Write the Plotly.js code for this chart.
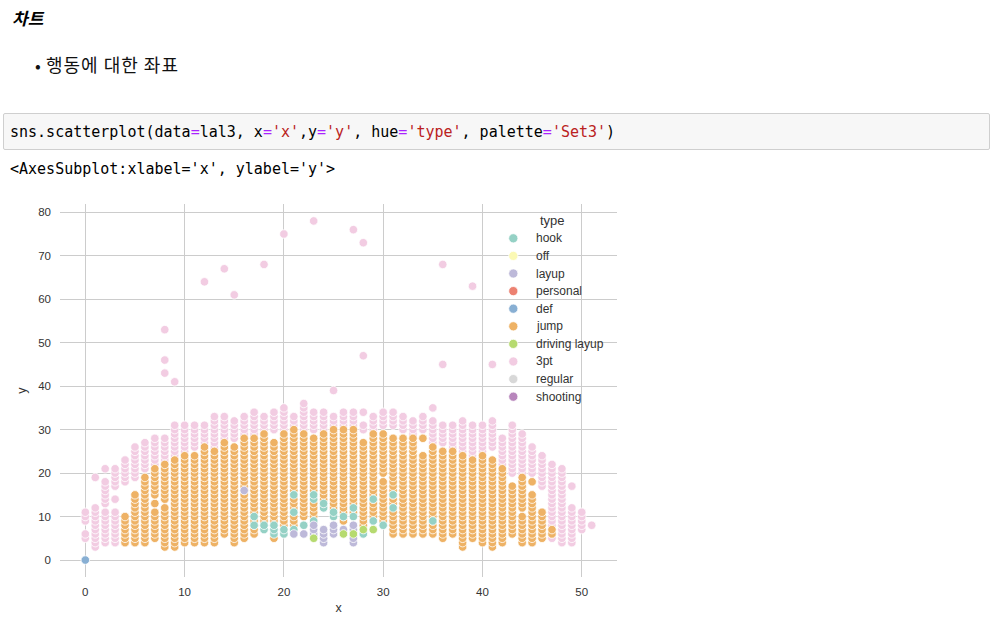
<!DOCTYPE html>
<html>
<head>
<meta charset="utf-8">
<script src="https://cdn.plot.ly/plotly-3.0.1.min.js"></script>
<style>
  html, body { margin:0; padding:0; background:#ffffff; width:997px; height:625px; overflow:hidden; }
  #h { position:absolute; left:12px; top:6px; font-family:"Noto Sans CJK KR","Noto Sans",sans-serif; font-size:17px; font-weight:bold; font-style:italic; color:#000; line-height:24px; }
  #bul { position:absolute; left:35px; top:51px; font-family:"Noto Sans CJK KR","Noto Sans",sans-serif; font-size:18px; color:#111; line-height:26px; letter-spacing:1px; }
  #bul .dot { display:inline-block; width:11px; font-size:17px; letter-spacing:0; }
  #code { position:absolute; left:3px; top:113px; width:985px; height:35px; background:#f7f7f7; border:1px solid #cfcfcf; border-radius:2px; }
  #code span.t { position:absolute; left:6px; top:8px; font-family:"DejaVu Sans Mono","Liberation Mono",monospace; font-size:15px; line-height:20px; color:#000; white-space:pre; }
  .op { color:#aa22ff; }
  .str { color:#ba2121; }
  #out { position:absolute; left:10px; top:159px; font-family:"DejaVu Sans Mono","Liberation Mono",monospace; font-size:15px; line-height:20px; color:#000; white-space:pre; }
  #plot { position:absolute; left:0px; top:190px; width:660px; height:435px; }
</style>
</head>
<body>
<div id="h">차트</div>
<div id="bul"><span class="dot">•</span>행동에 대한 좌표</div>
<div id="code"><span class="t">sns.scatterplot(data<span class="op">=</span>lal3, x<span class="op">=</span><span class="str">'x'</span>,y<span class="op">=</span><span class="str">'y'</span>, hue<span class="op">=</span><span class="str">'type'</span>, palette<span class="op">=</span><span class="str">'Set3'</span>)</span></div>
<div id="out">&lt;AxesSubplot:xlabel='x', ylabel='y'&gt;</div>
<div id="plot"></div>
<script>
// ---- data ----
const xCols = [0,1,2,3,4,5,6,7,8,9,10,11,12,13,14,15,16,17,18,19,20,21,22,23,24,25,
               26,27,28,29,30,31,32,33,34,35,36,37,38,39,40,41,42,43,44,45,46,47,48,49,50,51];

// y values per x column, written as lists / runs of integers
const threePtCols = [
  "5-6,9-11", "3-12,19", "4-11,13-18,21", "4-11,14,17-21", "18-23", "19-26",
  "21-27", "22-28", "23-28,43,46,53", "24-31,41", "25-31", "26-31",
  "27-31,64", "26-33", "28-33,67", "28-32,61", "29-33", "29-34",
  "30-33,68", "30-34", "30-35,75", "30-33", "30-36", "30-34,78",
  "29-34", "29-33,39", "31-34", "31-34,76", "30-31,34,47,73", "29-33",
  "31-34", "31-34", "30-33", "29-32", "30-33", "27-32,35",
  "27-31,45,68", "26-31", "25-32", "24-31,63", "25-31", "26-32,45",
  "22-28", "20-31", "20-29", "20-26", "17-24", "5-22",
  "4-21", "4-12,17", "7-11", "8"
];
const jumpCols = [
  "", "", "", "", "4-10", "4-15",
  "4-19", "5-11,13,15-21", "3-12,14-22", "3-23", "4-24", "4-24",
  "4-26", "4-25", "6-27", "4-26", "5-28", "6-28",
  "9-29", "5,9-27", "8-29", "8-10,12-14,16-30", "10-29", "10-13,16-28",
  "14-29", "12-30", "9-30", "11-30", "8-27", "10-29",
  "9-18,20-29", "6-11,13-28", "6-28", "6-28", "6-24,28", "6-26",
  "5-25", "6-25", "3-24", "5-23", "4-24", "3-23",
  "4-21", "6-17", "4-10,12-19", "4-15,18", "5-11", "6-7",
  "", "", "", ""
];
const hookX = [17,17,18,18,19,19,19,20,20,21,21,21,22,23,23,23,24,24,25,25,26,27,27,28,29,29,30,31,31,35];
const hookY = [8,10,7,8,6,7,8,6,7,7,11,15,8,9,14,15,12,13,10,11,10,10,12,6,9,14,8,12,15,9];
const layupX = [16,21,22,23,23,23,24,24,24,24,25,25,25,26,27,27,27,27];
const layupY = [16,6,6,6,7,8,4,5,6,7,6,7,8,7,4,5,7,8];
const drivingX = [23,26,27,28,29];
const drivingY = [5,6,6,7,7];
const defX = [0];
const defY = [0];

const types = ["hook","off","layup","personal","def","jump","driving layup","3pt","regular","shooting"];
const typeColors = ["#95d1c5","#fbf9b4","#bdb9d9","#ec8171","#88afd3","#eeb265","#b6da70","#f2cce2","#d8d8d8","#b886bc"];

const xTicks = [0,10,20,30,40,50];
const yTicks = [0,10,20,30,40,50,60,70,80];

// ---- build ----
function expand(spec){
  const out=[]; if(!spec) return out;
  spec.split(',').forEach(p=>{
    const parts=p.split('-').map(Number);
    if(parts.length===1) out.push(parts[0]);
    else for(let v=parts[0]; v<=parts[1]; v++) out.push(v);
  });
  return out;
}
function columns(specs){
  const xs=[], ys=[];
  specs.forEach((s,i)=>{ expand(s).forEach(v=>{ xs.push(xCols[i]); ys.push(v); }); });
  return {x:xs, y:ys};
}
const col = t => typeColors[types.indexOf(t)];
const mk = c => ({color:c, size:8.5, line:{color:'#ffffff', width:0.8}});

const p3 = columns(threePtCols);
const pj = columns(jumpCols);
const traces = [
  {type:'scatter', mode:'markers', name:'3pt', x:p3.x, y:p3.y, marker:mk(col('3pt'))},
  {type:'scatter', mode:'markers', name:'jump', x:pj.x, y:pj.y, marker:mk(col('jump'))},
  {type:'scatter', mode:'markers', name:'hook', x:hookX, y:hookY, marker:mk(col('hook'))},
  {type:'scatter', mode:'markers', name:'layup', x:layupX, y:layupY, marker:mk(col('layup'))},
  {type:'scatter', mode:'markers', name:'driving layup', x:drivingX, y:drivingY, marker:mk(col('driving layup'))},
  {type:'scatter', mode:'markers', name:'def', x:defX, y:defY, marker:mk(col('def'))}
];

// legend drawn as text + circles (page pixel -> paper coords)
const PL=60, PT=14, PW=557, PH=373, DIVTOP=190;
const px2paperX = px => (px - PL)/PW;
const py2paperY = py => 1 - (py - DIVTOP - PT)/PH;
const font = "Liberation Sans, Arial, sans-serif";
const annotations = [{
  text:'type', x:px2paperX(552), y:py2paperY(220), xref:'paper', yref:'paper',
  xanchor:'center', yanchor:'middle', showarrow:false, font:{family:font, size:13, color:'#333333'}
}];
const shapes = [];
types.forEach((t,i)=>{
  const yy = 238.3 + 17.6*i;
  annotations.push({text:t, x:px2paperX(534), y:py2paperY(yy), xref:'paper', yref:'paper',
    xanchor:'left', yanchor:'middle', showarrow:false, font:{family:font, size:12, color:'#333333'}});
  shapes.push({type:'circle', xref:'paper', yref:'paper', xsizemode:'pixel', ysizemode:'pixel',
    xanchor:px2paperX(513.3), yanchor:py2paperY(yy), x0:-4.6, x1:4.6, y0:-4.6, y1:4.6,
    fillcolor:typeColors[i], line:{color:'#ffffff', width:0.8}, layer:'above'});
});

const axisBase = {
  showgrid:true, gridcolor:'#cccccc', gridwidth:1, zeroline:false, showline:false,
  ticks:'', tickfont:{family:font, size:11.5, color:'#333333'}
};
const layout = {
  width:660, height:435,
  margin:{l:PL, r:660-PL-PW, t:PT, b:435-PT-PH},
  paper_bgcolor:'rgba(0,0,0,0)', plot_bgcolor:'#ffffff',
  showlegend:false, hovermode:'closest',
  xaxis:Object.assign({}, axisBase, {range:[-2.55,53.55], tickvals:xTicks, ticklabelstandoff:6,
    title:{text:'x', font:{family:font, size:12.5, color:'#333333'}, standoff:6}}),
  yaxis:Object.assign({}, axisBase, {range:[-3.9,81.9], tickvals:yTicks, ticklabelstandoff:8,
    title:{text:'y', font:{family:font, size:12.5, color:'#333333'}, standoff:8}}),
  annotations:annotations, shapes:shapes
};
Plotly.newPlot('plot', traces, layout, {displayModeBar:false});
</script>
</body>
</html>
